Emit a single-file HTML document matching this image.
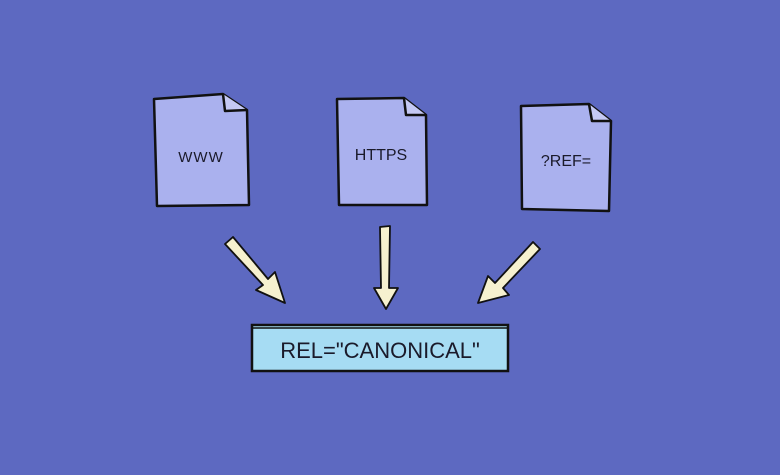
<!DOCTYPE html>
<html><head><style>
body{margin:0;width:780px;height:470px;background:#5d69c1;overflow:hidden}
text{font-family:"Liberation Sans",sans-serif;fill:#1a1a2a}
</style></head><body>
<svg width="780" height="470" viewBox="0 0 780 470">
<rect width="780" height="470" fill="#5d69c1"/>
<g stroke="#111" stroke-width="2.5" fill="#aab1ee" stroke-linejoin="round">
<path d="M154,99 L223,94 L247,110 L249,205 L157,206 Z"/>
<path d="M223,94 L225,111 L247,110" fill="#c5c9f4"/>
<path d="M337,99 L404,98 L426,115 L427,205 L339,205 Z"/>
<path d="M404,98 L406,115 L426,115" fill="#c5c9f4"/>
<path d="M521,106 L589,104 L611,121 L609,211 L522,209 Z"/>
<path d="M589,104 L592,121 L611,121" fill="#c5c9f4"/>
</g>
<text x="201" y="162" font-size="15" text-anchor="middle" letter-spacing="1">WWW</text>
<text x="381" y="160" font-size="16" text-anchor="middle">HTTPS</text>
<text x="566" y="166" font-size="16" text-anchor="middle">?REF=</text>
<g stroke="#111" stroke-width="1.8" fill="#f6f1cf" stroke-linejoin="round">
<path d="M225,244 L233,237 L268,279 L275,272 L285,303 L256,290 L263,285 Z"/>
<path d="M380,227 L390,226 L389,288 L398,288 L386,309 L374,288 L381,288 Z"/>
<path d="M533,242 L540,249 L503,288 L509,295 L478,303 L488,276 L495,283 Z"/>
</g>
<rect x="252" y="325" width="256" height="46" fill="#a6dcf3" stroke="#111" stroke-width="2.5"/>
<line x1="253" y1="328" x2="507" y2="328" stroke="#111" stroke-width="1.5"/>
<text x="380" y="358" font-size="22" text-anchor="middle">REL="CANONICAL"</text>
</svg>
</body></html>
